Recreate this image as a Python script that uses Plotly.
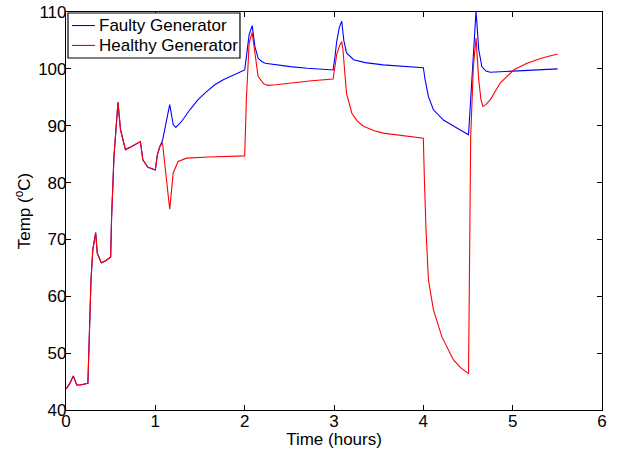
import plotly.graph_objects as go

# Shared portion (both generators identical)
shared_time = [0.0, 0.04, 0.082, 0.12, 0.16, 0.245, 0.28, 0.30, 0.332, 0.35, 0.395, 0.45, 0.50,
               0.51, 0.537, 0.582, 0.61, 0.665, 0.73, 0.833, 0.86, 0.918, 1.0, 1.023, 1.05]
shared_temp = [43.7, 44.6, 46.0, 44.4, 44.4, 44.7, 62.9, 68.2, 71.2, 67.6, 65.9, 66.3, 66.9,
               73.7, 84.6, 94.1, 89.3, 85.8, 86.3, 87.2, 84.0, 82.7, 82.2, 84.9, 86.3]

faulty_time = [1.08, 1.161, 1.20, 1.229, 1.292, 1.386, 1.479, 1.573, 1.666, 1.76, 1.853, 1.93, 2.0,
               2.02, 2.05, 2.084, 2.10, 2.115, 2.15, 2.19, 2.23, 2.35, 2.51, 2.7, 2.99,
               3.01, 3.03, 3.06, 3.086, 3.11, 3.14, 3.22, 3.35, 3.55, 3.8, 4.0,
               4.02, 4.057, 4.113, 4.225, 4.375, 4.506, 4.59, 4.62, 4.655, 4.70, 4.75,
               4.9, 5.1, 5.31, 5.503]
faulty_temp = [87.4, 93.7, 90.2, 89.7, 90.7, 92.8, 94.6, 96.0, 97.2, 98.1, 98.8, 99.3, 99.8,
               102.2, 106.0, 107.6, 105.5, 103.9, 101.9, 101.3, 101.0, 100.7, 100.4, 100.1, 99.8,
               102.0, 104.8, 107.3, 108.4, 105.0, 102.8, 101.6, 101.1, 100.7, 100.4, 100.2,
               98.1, 95.1, 92.8, 91.0, 89.6, 88.4, 110.2, 103.4, 100.4, 99.6, 99.4,
               99.5, 99.7, 99.8, 100.0]

healthy_time = [1.08, 1.161, 1.18, 1.20, 1.255, 1.35, 1.6, 2.0,
                2.02, 2.05, 2.084, 2.10, 2.12, 2.15, 2.21, 2.26, 2.35, 2.5, 2.75, 2.99,
                3.03, 3.06, 3.086, 3.10, 3.14, 3.20, 3.26, 3.33, 3.45, 3.55, 3.75, 4.0,
                4.012, 4.03, 4.057, 4.113, 4.207, 4.337, 4.42, 4.506,
                4.53, 4.56, 4.59, 4.62, 4.645, 4.667, 4.70, 4.75, 4.86, 5.01, 5.16, 5.33, 5.503]
healthy_temp = [87.0, 75.3, 79.0, 81.7, 83.7, 84.3, 84.5, 84.7,
                95.0, 104.5, 106.4, 104.5, 102.2, 98.7, 97.4, 97.1, 97.2, 97.5, 97.9, 98.2,
                102.5, 104.0, 104.8, 103.4, 95.7, 92.2, 90.8, 89.9, 89.1, 88.7, 88.3, 87.8,
                80.5, 71.7, 62.9, 57.6, 52.9, 48.8, 47.4, 46.4,
                88.0, 100.4, 105.4, 98.1, 94.6, 93.4, 93.7, 94.6, 97.5, 99.8, 101.0, 101.9, 102.6]

series_names = ["Faulty Generator", "Healthy Generator"]
series_colors = ["#0000FF", "#FF0000"]
x_ticks = [0, 1, 2, 3, 4, 5, 6]
y_ticks = [40, 50, 60, 70, 80, 90, 100, 110]

FONT = "Liberation Sans, Arial, Helvetica, sans-serif"

fig = go.Figure()
fig.add_trace(go.Scatter(x=shared_time + faulty_time, y=shared_temp + faulty_temp,
                         mode="lines", name=series_names[0], showlegend=False,
                         line=dict(color=series_colors[0], width=1.1)))
fig.add_trace(go.Scatter(x=shared_time + healthy_time, y=shared_temp + healthy_temp,
                         mode="lines", name=series_names[1], showlegend=False,
                         line=dict(color=series_colors[1], width=1.1)))

axis_common = dict(showgrid=False, zeroline=False, showline=True, linecolor="black", linewidth=1.2,
                   mirror="ticks", ticks="inside", ticklen=5, tickcolor="black", tickwidth=1,
                   automargin=False, ticklabelstandoff=-5, ticklabeloverflow="allow",
                   tickfont=dict(family=FONT, size=17, color="black"))

# MATLAB-style legend box drawn in paper coordinates
shapes = [dict(type="rect", xref="paper", yref="paper", x0=0.0037, x1=0.3246, y0=0.8844, y1=0.9975,
               line=dict(color="black", width=1.2), fillcolor="white", layer="above")]
annotations = []
legend_rows_y = [0.966, 0.916]
for name, color, yy in zip(series_names, series_colors, legend_rows_y):
    shapes.append(dict(type="line", xref="paper", yref="paper", x0=0.0112, x1=0.0541, y0=yy, y1=yy,
                       line=dict(color=color, width=1.1), layer="above"))
    annotations.append(dict(text=name, xref="paper", yref="paper", x=0.0578, y=yy,
                            xanchor="left", yanchor="middle", showarrow=False,
                            font=dict(family=FONT, size=17, color="black")))

fig.update_layout(
    width=623, height=450,
    margin=dict(l=66, r=21, t=12, b=40),
    paper_bgcolor="white", plot_bgcolor="white",
    font=dict(family=FONT, size=17, color="black"),
    xaxis=dict(range=[0, 6], tickvals=x_ticks,
               title=dict(text="Time (hours)", standoff=0, font=dict(size=17)), **axis_common),
    yaxis=dict(range=[40, 110], tickvals=y_ticks,
               title=dict(text="Temp (<sup>o</sup>C)", standoff=3, font=dict(size=17)), **axis_common),
    shapes=shapes,
    annotations=annotations,
    showlegend=False,
)

# Remove the default 8px page margin so the figure fills the window exactly.
fig.write_html("out.html", config={"displayModeBar": False},
               post_script="document.body.style.margin='0';")
